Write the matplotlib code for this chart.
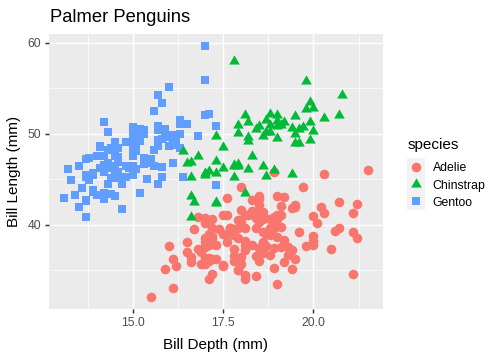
import matplotlib
matplotlib.use("Agg")
import matplotlib.pyplot as plt
from matplotlib.lines import Line2D
from matplotlib.patches import Rectangle

plt.rcParams['font.family'] = ['Liberation Sans', 'DejaVu Sans']

# ---- data (bill length / bill depth in mm) ----
adelie_length = [39.1, 39.5, 40.3, 36.7, 39.3, 38.9, 39.2, 34.1, 42.0, 37.8, 37.8, 41.1, 38.6, 34.6, 36.6, 38.7,
                 42.5, 34.4, 46.0, 37.8, 37.7, 35.9, 38.2, 38.8, 35.3, 40.6, 40.5, 37.9, 40.5, 39.5, 37.2, 39.5,
                 40.9, 36.4, 39.2, 38.8, 42.2, 37.6, 39.8, 36.5, 40.8, 36.0, 44.1, 37.0, 39.6, 41.1, 37.5, 36.0,
                 42.3, 39.6, 40.1, 35.0, 42.0, 34.5, 41.4, 39.0, 40.6, 36.5, 37.6, 35.7, 41.3, 37.6, 41.1, 36.4,
                 41.6, 35.5, 41.1, 35.9, 41.8, 33.5, 39.7, 39.6, 45.8, 35.5, 42.8, 40.9, 37.2, 36.2, 42.1, 34.6,
                 42.9, 36.7, 35.1, 37.3, 41.3, 36.3, 36.9, 38.3, 38.9, 35.7, 41.1, 34.0, 39.6, 36.2, 40.8, 38.1,
                 40.3, 33.1, 43.2, 35.0, 41.0, 37.7, 37.8, 37.9, 39.7, 38.6, 38.2, 38.1, 43.2, 38.1, 45.6, 39.7,
                 42.2, 39.6, 42.7, 38.6, 37.3, 35.7, 41.1, 36.2, 37.7, 40.2, 41.4, 35.2, 40.6, 38.8, 41.5, 39.0,
                 44.1, 38.5, 43.1, 36.8, 37.5, 38.1, 41.1, 35.6, 40.2, 37.0, 39.7, 40.2, 40.6, 32.1, 40.7, 37.3,
                 39.0, 39.2, 36.6, 36.0, 37.8, 36.0, 41.5]
adelie_depth = [18.7, 17.4, 18.0, 19.3, 20.6, 17.8, 19.6, 18.1, 20.2, 17.1, 17.3, 17.6, 21.2, 21.1, 17.8, 19.0,
                20.7, 18.4, 21.5, 18.3, 18.7, 19.2, 18.1, 17.2, 18.9, 18.6, 17.9, 18.6, 18.9, 16.7, 18.1, 17.8,
                18.9, 17.0, 21.1, 20.0, 18.5, 19.3, 19.1, 18.0, 18.4, 18.5, 19.7, 16.9, 18.8, 19.0, 18.9, 17.9,
                21.2, 17.7, 18.9, 17.9, 19.5, 18.1, 18.6, 17.5, 18.8, 16.6, 19.1, 16.9, 21.1, 17.0, 18.2, 17.1,
                18.0, 16.2, 19.1, 16.6, 19.4, 19.0, 18.4, 17.2, 18.9, 17.5, 18.5, 16.8, 19.4, 16.1, 19.1, 17.2,
                17.6, 18.8, 19.4, 17.8, 20.3, 19.5, 18.6, 19.2, 18.8, 18.0, 18.1, 17.1, 18.1, 17.3, 18.9, 18.6,
                18.5, 16.1, 18.5, 17.9, 20.0, 16.0, 20.0, 18.6, 18.9, 17.2, 20.0, 17.0, 19.0, 16.5, 20.3, 17.7,
                19.5, 20.7, 18.3, 17.0, 20.5, 17.0, 18.6, 17.2, 19.8, 17.0, 18.5, 15.9, 19.0, 17.6, 18.3, 17.1,
                18.0, 17.9, 19.2, 18.5, 18.5, 17.6, 17.5, 17.5, 20.1, 16.5, 17.9, 17.1, 17.2, 15.5, 17.0, 16.8,
                18.7, 18.6, 18.4, 17.8, 18.1, 17.1, 18.5]

gentoo_length = [46.1, 50.0, 48.7, 50.0, 47.6, 46.5, 45.4, 46.7, 43.3, 46.8, 40.9, 49.0, 45.5, 48.4, 45.8, 49.3,
                 42.0, 49.2, 46.2, 48.7, 50.2, 45.1, 46.5, 46.3, 42.9, 46.1, 44.5, 47.8, 48.2, 50.0, 47.3, 42.8,
                 45.1, 59.6, 49.1, 48.4, 42.6, 44.4, 44.0, 48.7, 42.7, 49.6, 45.3, 49.6, 50.5, 43.6, 45.5, 50.5,
                 44.9, 45.2, 46.6, 48.5, 45.1, 50.1, 46.5, 45.0, 43.8, 45.5, 43.2, 50.4, 45.3, 46.2, 45.7, 54.3,
                 45.8, 49.8, 46.2, 49.5, 43.5, 50.7, 47.7, 46.4, 48.2, 46.5, 46.4, 48.6, 47.5, 51.1, 45.2, 45.2,
                 49.1, 52.5, 47.4, 50.0, 44.9, 50.8, 43.4, 51.3, 47.5, 52.1, 47.5, 52.2, 45.5, 49.5, 44.5, 50.8,
                 49.4, 46.9, 48.4, 51.1, 48.5, 55.9, 47.2, 49.1, 47.3, 46.8, 41.7, 53.4, 43.3, 48.1, 50.5, 49.8,
                 43.5, 51.5, 46.2, 55.1, 44.5, 48.8, 47.2, 46.8, 50.4, 45.2, 49.9]
gentoo_depth = [13.2, 16.3, 14.1, 15.2, 14.5, 13.5, 14.6, 15.3, 13.4, 15.4, 13.7, 16.1, 13.7, 14.6, 14.6, 15.7,
                13.5, 15.2, 14.5, 15.1, 14.3, 14.5, 14.5, 15.8, 13.1, 15.1, 14.3, 15.0, 14.3, 15.3, 15.3, 14.2,
                14.5, 17.0, 14.8, 16.3, 13.7, 17.3, 13.6, 15.7, 13.7, 16.0, 13.7, 15.0, 15.9, 13.9, 13.9, 15.9,
                13.3, 15.8, 14.2, 14.1, 14.4, 15.0, 14.4, 15.4, 13.9, 15.0, 14.5, 15.3, 13.8, 14.9, 13.9, 15.7,
                14.2, 16.8, 14.4, 16.2, 14.2, 15.0, 15.0, 15.6, 15.6, 14.8, 15.0, 16.0, 14.2, 16.3, 13.8, 16.4,
                14.5, 15.6, 14.6, 15.9, 13.8, 17.3, 14.4, 14.2, 14.0, 17.0, 15.0, 17.1, 14.5, 16.1, 14.7, 15.7,
                15.8, 14.6, 14.4, 16.5, 15.0, 17.0, 15.5, 15.0, 13.8, 16.1, 14.7, 15.8, 14.0, 15.1, 15.2, 15.9,
                15.2, 16.3, 14.1, 16.0, 15.7, 16.2, 13.7, 14.3, 15.7, 14.8, 16.1]

chinstrap_length = [46.5, 50.0, 51.3, 45.4, 52.7, 45.2, 46.1, 51.3, 46.0, 51.3, 46.6, 51.7, 47.0, 52.0, 45.9, 50.5,
                    50.3, 58.0, 46.4, 49.2, 42.4, 48.5, 43.2, 50.6, 46.7, 52.0, 50.5, 49.5, 46.4, 52.8, 40.9, 54.2,
                    42.5, 51.0, 49.7, 47.5, 47.6, 52.0, 46.9, 53.5, 49.0, 46.2, 50.9, 45.5, 50.9, 50.8, 50.1, 49.0,
                    51.5, 49.8, 48.1, 51.4, 45.7, 50.7, 42.5, 52.2, 45.2, 49.3, 50.2, 45.6, 51.9, 46.8, 45.7, 55.8,
                    43.5, 49.6, 50.8, 50.2]
chinstrap_depth = [17.9, 19.5, 19.2, 18.7, 19.8, 17.8, 18.2, 18.2, 18.9, 19.9, 17.8, 20.3, 17.3, 18.1, 17.1, 19.6,
                   20.0, 17.8, 18.6, 18.2, 17.3, 17.5, 16.6, 19.4, 17.9, 19.0, 18.4, 19.0, 17.8, 20.0, 16.6, 20.8,
                   16.7, 18.8, 18.6, 16.8, 18.3, 20.7, 16.6, 19.9, 19.5, 17.5, 19.1, 17.0, 17.9, 18.5, 17.9, 19.6,
                   18.7, 17.3, 16.4, 19.0, 17.3, 19.7, 17.3, 18.8, 16.6, 19.9, 18.8, 19.4, 19.5, 16.5, 17.0, 19.8,
                   18.1, 18.2, 19.0, 18.7]

species = ["Adelie", "Chinstrap", "Gentoo"]
x_ticks = [15.0, 17.5, 20.0]
x_tick_labels = ["15.0", "17.5", "20.0"]
y_ticks = [40, 50, 60]
y_tick_labels = ["40", "50", "60"]

# ---- style ----
colors = {"Adelie": "#F8766D", "Chinstrap": "#00BA38", "Gentoo": "#619CFF"}
tri = [(0, 1), (0.866, -0.5), (-0.866, -0.5)]
markers = {"Adelie": "o", "Chinstrap": tri, "Gentoo": "s"}
sizes = {"Adelie": 48, "Chinstrap": 78, "Gentoo": 40}

W, H = 504, 360
fig = plt.figure(figsize=(W / 100, H / 100), dpi=100)
fig.patch.set_facecolor("white")
ax = fig.add_axes([49 / W, 1 - 309.3 / H, (382.7 - 49) / W, (309.3 - 33.7) / H])
ax.set_facecolor("#EBEBEB")

data = {"Adelie": (adelie_depth, adelie_length),
        "Gentoo": (gentoo_depth, gentoo_length),
        "Chinstrap": (chinstrap_depth, chinstrap_length)}
for sp in ["Adelie", "Gentoo", "Chinstrap"]:
    d, l = data[sp]
    ax.scatter(d, l, s=sizes[sp], c=colors[sp], marker=markers[sp], linewidths=0, zorder=3)

ax.margins(0.05)
ax.set_xticks(x_ticks)
ax.set_xticklabels(x_tick_labels)
ax.set_yticks(y_ticks)
ax.set_yticklabels(y_tick_labels)
ax.set_xticks([13.75, 16.25, 18.75, 21.25], minor=True)
ax.set_yticks([35, 45, 55], minor=True)
ax.grid(which="major", color="white", linewidth=1.07, zorder=0)
ax.grid(which="minor", color="white", linewidth=0.53, zorder=0)
ax.set_axisbelow(True)
for s in ax.spines.values():
    s.set_visible(False)
ax.tick_params(which="major", length=2.75, width=1.07, color="#333333",
               labelcolor="#4D4D4D", labelsize=8.8, pad=3.0)
ax.tick_params(which="minor", length=0)

fig.text(49.5 / W, 1 - 22 / H, "Palmer Penguins", fontsize=13.2, ha="left", va="baseline", color="black")
fig.text((49 + 382.7) / 2 / W, 1 - 349 / H, "Bill Depth (mm)", fontsize=11, ha="center", va="baseline")
fig.text(14.5 / W, 1 - 171.5 / H, "Bill Length (mm)", fontsize=11, ha="center", va="center", rotation=90)

# legend
fig.text(407.3 / W, 1 - 149 / H, "species", fontsize=11, ha="left", va="baseline")
key_x0, key_x1 = 407.3, 424.7
key_top, key_h = 158.3, 17.25
fig.add_artist(Rectangle((key_x0 / W, 1 - (key_top + 3 * key_h) / H), (key_x1 - key_x0) / W, 3 * key_h / H,
                         transform=fig.transFigure, facecolor="#F2F2F2", edgecolor="none"))
for i, sp in enumerate(species):
    cy = key_top + key_h * (i + 0.5)
    ms = {"Adelie": 48, "Chinstrap": 78, "Gentoo": 40}[sp] ** 0.5
    fig.add_artist(Line2D([(key_x0 + key_x1) / 2 / W], [1 - cy / H], transform=fig.transFigure,
                          marker=markers[sp], markersize=ms, color=colors[sp], markeredgewidth=0, linestyle="none"))
    fig.text(432.7 / W, 1 - (cy + 1.5) / H, sp, fontsize=8.8, ha="left", va="center")

fig.savefig("out.png", dpi=100)
